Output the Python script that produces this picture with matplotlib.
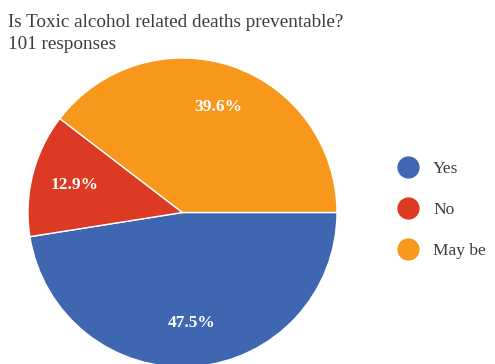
import matplotlib
matplotlib.use('Agg')
import matplotlib.pyplot as plt
from matplotlib.lines import Line2D

# Survey answers
labels = ['Yes', 'No', 'May be']
shares = [47.5, 12.9, 39.6]
colors = ['#3f66b0', '#dc3a22', '#f7981d']
question = 'Is Toxic alcohol related deaths preventable?'
responses = '101 responses'

W, H = 495, 364
plt.rcParams['font.family'] = ['Liberation Serif', 'DejaVu Serif']
fig = plt.figure(figsize=(W / 100, H / 100), dpi=100)

fig.text(8 / W, 1 - 27 / H, question, fontsize=13.8, color='#3c3c3c')
fig.text(8 / W, 1 - 49 / H, responses, fontsize=13.8, color='#3c3c3c')

# pie axes: centre (182.5, 212.5) px, radius 154.5 px
r = 154.5
cx, cy = 182.5, H - 212.5
ax = fig.add_axes([(cx - r) / W, (cy - r) / H, 2 * r / W, 2 * r / H])
wedges, texts, autotexts = ax.pie(
    shares, colors=colors, startangle=0, counterclock=False,
    autopct='%.1f%%', pctdistance=0.72,
    wedgeprops=dict(edgecolor='white', linewidth=1),
    textprops=dict(color='white', fontsize=12.5, fontweight='bold'))
ax.set_xlim(-1, 1)
ax.set_ylim(-1, 1)
ax.axis('off')

handles = [Line2D([], [], marker='o', linestyle='none', markersize=15,
                  markerfacecolor=c, markeredgecolor=c) for c in colors]
fig.legend(handles, labels, loc='upper left',
           bbox_to_anchor=(375 / W, 1 - 145 / H), frameon=False,
           fontsize=12.5, labelspacing=1.45, handletextpad=0.45,
           labelcolor='#3c3c3c')

fig.savefig('out.png', dpi=100)
